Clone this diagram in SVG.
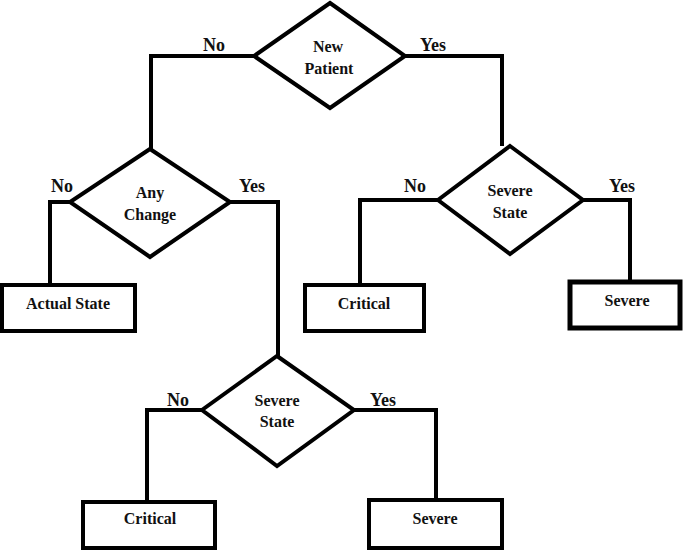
<svg xmlns="http://www.w3.org/2000/svg" width="685" height="550" viewBox="0 0 685 550">
<style>
.shape{fill:#fff;stroke:#000;stroke-width:4;stroke-linejoin:miter}
.conn{fill:none;stroke:#000;stroke-width:4;stroke-linejoin:miter}
text{font-family:"Liberation Serif","Times New Roman",serif;font-weight:bold;fill:#111;text-anchor:middle}
.lbl{font-size:18px}
.nt{font-size:16px}
</style>
<rect width="685" height="550" fill="#fff"/>
<g id="connectors">
<polyline class="conn" points="254,56 151,56 151,150"/>
<polyline class="conn" points="405,56 502,56 502,146"/>
<polyline class="conn" points="70,202 50,202 50,286"/>
<polyline class="conn" points="230,202 278,202 278,356"/>
<polyline class="conn" points="438,200 360,200 360,286"/>
<polyline class="conn" points="583,200 630,200 630,283"/>
<polyline class="conn" points="202,410 147,410 147,503"/>
<polyline class="conn" points="354,410 436,410 436,501"/>
<text class="lbl" x="214" y="51">No</text>
<text class="lbl" x="433" y="51">Yes</text>
<text class="lbl" x="62" y="192">No</text>
<text class="lbl" x="252" y="192">Yes</text>
<text class="lbl" x="415" y="192">No</text>
<text class="lbl" x="622" y="192">Yes</text>
<text class="lbl" x="178" y="406">No</text>
<text class="lbl" x="383" y="406">Yes</text>
</g>
<g id="new-patient">
<polygon class="shape" points="330,3 405,56 330,108 254,56"/>
<text class="nt" x="328" y="52">New</text>
<text class="nt" x="329" y="74">Patient</text>
</g>
<g id="any-change">
<polygon class="shape" points="150,149 230,202 150,257 70,202"/>
<text class="nt" x="150" y="198">Any</text>
<text class="nt" x="150" y="220">Change</text>
</g>
<g id="severe-state-1">
<polygon class="shape" points="510,146 583,200 510,254 438,200"/>
<text class="nt" x="510" y="196">Severe</text>
<text class="nt" x="510" y="218">State</text>
</g>
<g id="severe-state-2">
<polygon class="shape" points="277,356 354,410 277,466 202,410"/>
<text class="nt" x="277" y="406">Severe</text>
<text class="nt" x="277" y="427">State</text>
</g>
<g id="actual-state">
<rect class="shape" x="2" y="285" width="133" height="46"/>
<text class="nt" x="68" y="309">Actual State</text>
</g>
<g id="critical-1">
<rect class="shape" x="305" y="285" width="119" height="46"/>
<text class="nt" x="364" y="309">Critical</text>
</g>
<g id="severe-1">
<rect class="shape" x="570" y="282" width="110" height="46" style="stroke-width:5"/>
<text class="nt" x="627" y="306">Severe</text>
</g>
<g id="critical-2">
<rect class="shape" x="83" y="502" width="132" height="46"/>
<text class="nt" x="150" y="524">Critical</text>
</g>
<g id="severe-2">
<rect class="shape" x="369" y="500" width="133" height="48"/>
<text class="nt" x="435" y="524">Severe</text>
</g>
</svg>
